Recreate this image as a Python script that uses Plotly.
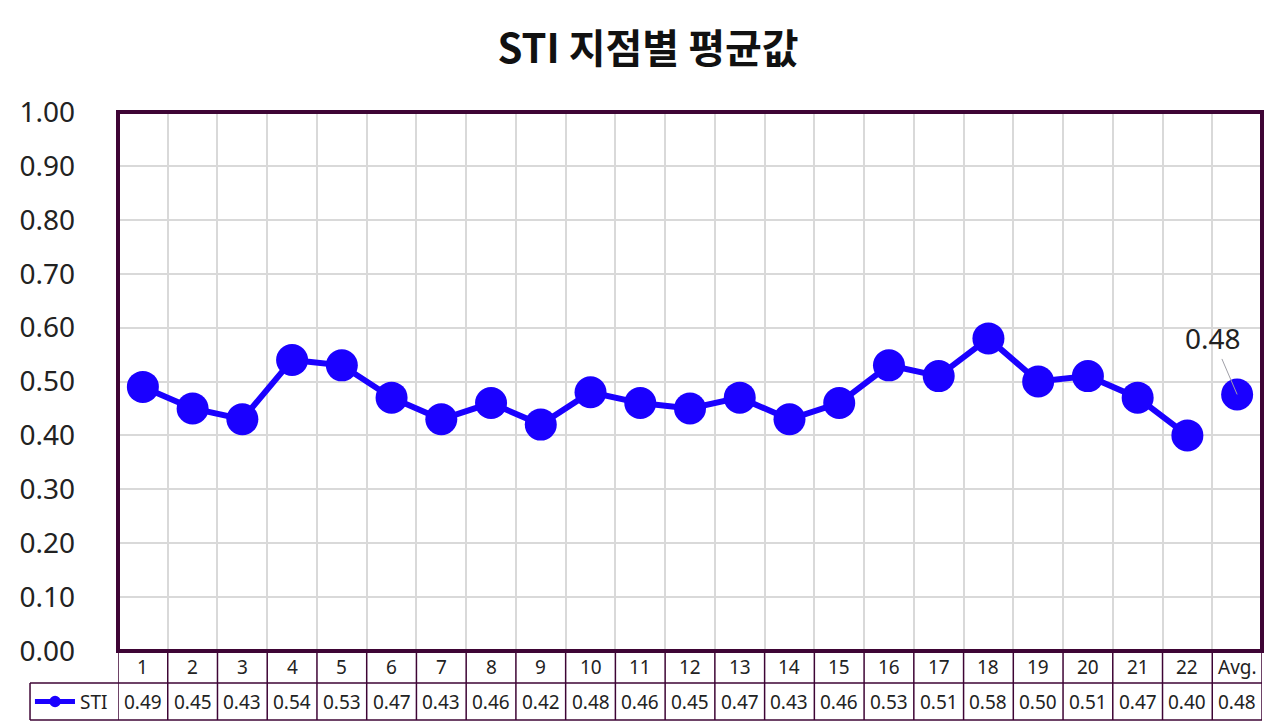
import plotly.graph_objects as go

# STI per measuring point, plus the overall average
points = ['1', '2', '3', '4', '5', '6', '7', '8', '9', '10', '11',
          '12', '13', '14', '15', '16', '17', '18', '19', '20', '21', '22']
sti = [0.49, 0.45, 0.43, 0.54, 0.53, 0.47, 0.43, 0.46, 0.42, 0.48, 0.46,
       0.45, 0.47, 0.43, 0.46, 0.53, 0.51, 0.58, 0.50, 0.51, 0.47, 0.40]
avg_label = 'Avg.'
avg_value = 0.476
yticks = [0.0, 0.1, 0.2, 0.3, 0.4, 0.5, 0.6, 0.7, 0.8, 0.9, 1.0]

categories = points + [avg_label]
n = len(categories)
BLUE = '#1a00ff'
BORDER = '#3e0535'
FONT = 'Noto Sans, Open Sans, sans-serif'
TXT = dict(size=19, color='#222', family=FONT)

fig = go.Figure()
fig.add_trace(go.Scatter(
    x=list(range(len(points))), y=sti, mode='lines+markers', name='STI',
    line=dict(color=BLUE, width=6), marker=dict(color=BLUE, size=32),
    showlegend=False, cliponaxis=False))
fig.add_trace(go.Scatter(
    x=[len(points)], y=[avg_value], mode='markers', name='Avg',
    marker=dict(color=BLUE, size=32), showlegend=False, cliponaxis=False))

# label on the average point
fig.add_annotation(x=len(points), y=avg_value, text=f'{avg_value:.2f}',
                   showarrow=True, arrowhead=0, arrowwidth=1, arrowcolor='#a0a0a8',
                   ax=-24, ay=-56, standoff=0, font=dict(size=28, color='#222', family=FONT))

# data table under the plot (two rows: category, value)
r1 = -0.0594
r2 = -0.128
xl = -0.0769
shapes = []
for i in range(n + 1):
    shapes.append(dict(type='line', xref='x', yref='paper', x0=i - 0.5, x1=i - 0.5,
                       y0=0, y1=r2, line=dict(color=BORDER, width=1.5)))
for yy in (r1, r2):
    shapes.append(dict(type='line', xref='paper', yref='paper', x0=xl, x1=1, y0=yy, y1=yy,
                       line=dict(color=BORDER, width=1.5)))
shapes.append(dict(type='line', xref='paper', yref='paper', x0=xl, x1=xl, y0=r1, y1=r2,
                   line=dict(color=BORDER, width=1.5)))
# legend key in the table
ym = (r1 + r2) / 2
shapes.append(dict(type='line', xref='paper', yref='paper', x0=-0.0726, x1=-0.0376,
                   y0=ym, y1=ym, line=dict(color=BLUE, width=5)))
shapes.append(dict(type='circle', xref='paper', yref='paper', x0=-0.0600, x1=-0.0500,
                   y0=ym - 0.0105, y1=ym + 0.0105,
                   line=dict(color=BLUE, width=0), fillcolor=BLUE))
# plot area frame
shapes.append(dict(type='rect', xref='paper', yref='paper', x0=0, x1=1, y0=0, y1=1,
                   line=dict(color=BORDER, width=4)))

values = sti + [avg_value]
for i, (c, v) in enumerate(zip(categories, values)):
    fig.add_annotation(x=i, y=r1 / 2, xref='x', yref='paper', text=c, showarrow=False,
                       xanchor='center', yanchor='middle', font=TXT)
    fig.add_annotation(x=i, y=ym, xref='x', yref='paper', text=f'{v:.2f}',
                       showarrow=False, xanchor='center', yanchor='middle', font=TXT)
fig.add_annotation(x=-0.035, y=ym, xref='paper', yref='paper', text='STI',
                   xanchor='left', yanchor='middle', showarrow=False, font=TXT)

fig.update_layout(
    width=1280, height=728,
    margin=dict(l=110, r=26, t=104, b=85),
    paper_bgcolor='white', plot_bgcolor='white',
    title=dict(text='<b>STI 지점별 평균값</b>', x=0.5, xanchor='center', y=1 - 41 / 728,
               yanchor='middle',
               font=dict(size=40, color='#111', family='Noto Sans CJK KR, sans-serif')),
    xaxis=dict(range=[-0.5, n - 0.5], tickvals=[i + 0.5 for i in range(n - 1)],
               showticklabels=False, showgrid=True, gridcolor='#d9d9d9', gridwidth=1.5,
               zeroline=False, showline=False, fixedrange=True),
    yaxis=dict(range=[0, 1], tickvals=yticks, ticktext=[f'{t:.2f}' for t in yticks],
               showgrid=True, gridcolor='#d9d9d9', gridwidth=1.5, zeroline=False,
               showline=False, ticks='', ticklabelstandoff=42,
               tickfont=dict(size=28, color='#222', family=FONT)),
    shapes=shapes,
    showlegend=False,
)

fig.write_html("out.html")
